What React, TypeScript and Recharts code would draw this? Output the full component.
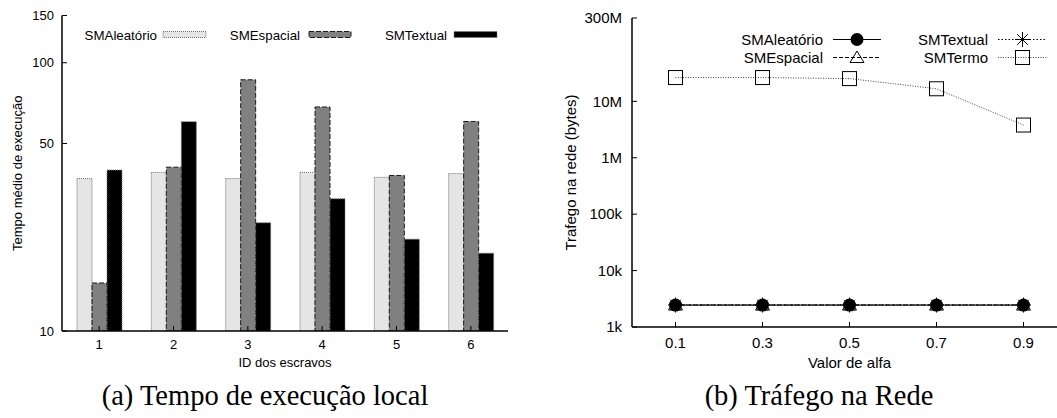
import React from "react";
import { BarChart, Bar, LineChart, Line, XAxis, YAxis, Legend } from "recharts";

const SANS = "'Liberation Sans', Arial, sans-serif";
const SERIF = "'Liberation Serif', 'Times New Roman', serif";

// (a) tempo médio de execução por escravo
const escravos = ["1", "2", "3", "4", "5", "6"];
const tempoAleatorio = [37.0, 39.0, 37.0, 39.0, 37.4, 38.6];
const tempoEspacial = [15.1, 40.8, 86.4, 68.4, 38.0, 60.4];
const tempoTextual = [39.8, 60.3, 25.3, 31.1, 22.0, 19.5];
const tempoTicks = [10, 50, 100, 150];

// (b) tráfego na rede por valor de alfa
const alfas = [0.1, 0.3, 0.5, 0.7, 0.9];
const trafegoAleatorio = [2450, 2450, 2450, 2450, 2450];
const trafegoEspacial = [2450, 2450, 2450, 2450, 2450];
const trafegoTextual = [2450, 2450, 2450, 2450, 2450];
const trafegoTermo = [26400000, 26400000, 25300000, 16700000, 3800000];
const trafegoTicks = [1e3, 1e4, 1e5, 1e6, 1e7, 3e8];
const trafegoTickLabels = ["1k", "10k", "100k", "1M", "10M", "300M"];

const tempoData = escravos.map((id, i) => ({
  id,
  aleatorio: tempoAleatorio[i],
  espacial: tempoEspacial[i],
  textual: tempoTextual[i],
}));

const trafegoData = alfas.map((alfa, i) => ({
  alfa,
  aleatorio: trafegoAleatorio[i],
  espacial: trafegoEspacial[i],
  textual: trafegoTextual[i],
  termo: trafegoTermo[i],
}));

const barSeries = [
  { key: "aleatorio", name: "SMAleatório", fill: "#e5e5e5", stroke: "#707070", dash: "1 1" },
  { key: "espacial", name: "SMEspacial", fill: "#808080", stroke: "#1a1a1a", dash: "5 2" },
  { key: "textual", name: "SMTextual", fill: "#000000", stroke: "#777777", dash: "1 1" },
];

// point shapes (gnuplot-like)
const circleMark = (cx: number, cy: number) => <circle cx={cx} cy={cy} r={6.5} fill="#000" />;
const triangleMark = (cx: number, cy: number) => (
  <path d={`M${cx},${cy - 6.5}L${cx + 7},${cy + 5}L${cx - 7},${cy + 5}Z`} fill="none" stroke="#000" strokeWidth={1} />
);
const asteriskMark = (cx: number, cy: number) => {
  const r = 7.5;
  const d = r * 0.707;
  return (
    <path
      d={`M${cx - r},${cy}H${cx + r}M${cx},${cy - r}V${cy + r}M${cx - d},${cy - d}L${cx + d},${cy + d}M${cx - d},${cy + d}L${cx + d},${cy - d}`}
      stroke="#000"
      strokeWidth={1}
    />
  );
};
const squareMark = (cx: number, cy: number) => (
  <rect x={cx - 7} y={cy - 7} width={14} height={14} fill="none" stroke="#000" strokeWidth={1} />
);

// drawn back to front so the filled circles sit on top
const lineSeries = [
  { key: "espacial", name: "SMEspacial", stroke: "#000", dash: "4 2", mark: triangleMark },
  { key: "textual", name: "SMTextual", stroke: "#000", dash: "1.5 2", mark: asteriskMark },
  { key: "termo", name: "SMTermo", stroke: "#444", dash: "1 1.5", mark: squareMark },
  { key: "aleatorio", name: "SMAleatório", stroke: "#000", dash: undefined, mark: circleMark },
];

// key layout for chart (a): text right aligned, then the box sample
const barKeyText = [157, 300, 447];
const barKeyBox = [163, 309, 454];
const barKeyBoxW = [43, 42, 43];

const BarKey = () => (
  <svg width={470} height={30} style={{ display: "block" }}>
    {barSeries.map((s, i) => (
      <g key={s.key}>
        <text x={barKeyText[i] - 60} y={15.8} textAnchor="end" fontFamily={SANS} fontSize={13.3} fill="#000">
          {s.name}
        </text>
        <rect
          x={barKeyBox[i] - 60}
          y={7.5}
          width={barKeyBoxW[i]}
          height={6}
          fill={s.fill}
          stroke={s.stroke}
          strokeDasharray={s.dash}
        />
      </g>
    ))}
  </svg>
);

// key layout for chart (b): two columns, two rows
const lineKeyOrder = ["aleatorio", "textual", "espacial", "termo"];
const lineKeyPos = [
  { textX: 823, x1: 833, x2: 881, cx: 857, cy: 39.5 },
  { textX: 988, x1: 998, x2: 1047, cx: 1022.5, cy: 39.5 },
  { textX: 823, x1: 833, x2: 881, cx: 857, cy: 57.5 },
  { textX: 988, x1: 998, x2: 1047, cx: 1022.5, cy: 57.5 },
];

const LineKey = () => {
  const ox = 700;
  const oy = 28;
  return (
    <svg width={360} height={44} style={{ display: "block" }}>
      {lineKeyOrder.map((k, i) => {
        const s = lineSeries.find((l) => l.key === k)!;
        const p = lineKeyPos[i];
        return (
          <g key={k}>
            <text
              x={p.textX - ox}
              y={p.cy - oy + 5.3}
              textAnchor="end"
              fontFamily={SANS}
              fontSize={15}
              fill="#000"
            >
              {s.name}
            </text>
            <line
              x1={p.x1 - ox}
              x2={p.x2 - ox}
              y1={p.cy - oy}
              y2={p.cy - oy}
              stroke={s.stroke}
              strokeDasharray={s.dash}
            />
            {s.mark(p.cx - ox, p.cy - oy)}
          </g>
        );
      })}
    </svg>
  );
};

const axisLine = { stroke: "#000", strokeWidth: 1.5 };
const tickLine = { stroke: "#000", strokeWidth: 1 };

export default function App() {
  const tickA = { fontSize: 13, fill: "#000", fontFamily: SANS };
  const tickB = { fontSize: 15, fill: "#000", fontFamily: SANS };

  return (
    <div
      style={{
        position: "absolute",
        left: 0,
        top: 0,
        width: 1057,
        height: 418,
        overflow: "hidden",
        background: "#fff",
      }}
    >
      <div style={{ position: "absolute", left: 0, top: 0 }}>
        <BarChart
          width={530}
          height={418}
          data={tempoData}
          margin={{ top: 15.5, right: 22, bottom: 18, left: 0 }}
          barSize={15}
          barGap={0}
        >
          <XAxis
            dataKey="id"
            height={69}
            axisLine={axisLine}
            tickLine={tickLine}
            tickSize={-5}
            tickMargin={14}
            tick={tickA}
            label={{ value: "ID dos escravos", position: "center", dy: -3, fontSize: 13, fontFamily: SANS, fill: "#000" }}
          />
          <XAxis
            xAxisId="top"
            orientation="top"
            dataKey="id"
            height={0}
            axisLine={axisLine}
            tickLine={tickLine}
            tickSize={-5}
            tick={false}
          />
          <YAxis
            type="number"
            scale="log"
            domain={[10, 150]}
            allowDataOverflow
            ticks={tempoTicks}
            width={62}
            axisLine={axisLine}
            tickLine={tickLine}
            tickSize={-5}
            tickMargin={13}
            tick={tickA}
            label={{
              value: "Tempo médio de execução",
              angle: -90,
              position: "center",
              dx: -14,
              fontSize: 13,
              fontFamily: SANS,
              fill: "#000",
            }}
          />
          <YAxis
            yAxisId="right"
            orientation="right"
            type="number"
            scale="log"
            domain={[10, 150]}
            allowDataOverflow
            ticks={tempoTicks}
            width={0}
            axisLine={axisLine}
            tickLine={tickLine}
            tickSize={-5}
            tick={false}
          />
          <Legend
            layout="horizontal"
            verticalAlign="middle"
            align="center"
            wrapperStyle={{ left: 60, top: 24 }}
            content={() => <BarKey />}
          />
          {barSeries.map((s) => (
            <Bar
              key={s.key}
              dataKey={s.key}
              name={s.name}
              fill={s.fill}
              stroke={s.stroke}
              strokeWidth={1}
              strokeDasharray={s.dash}
              isAnimationActive={false}
            />
          ))}
        </BarChart>
      </div>

      <div style={{ position: "absolute", left: 530, top: 0 }}>
        <LineChart
          width={537}
          height={418}
          data={trafegoData}
          margin={{ top: 18, right: 0, bottom: 16, left: 0 }}
        >
          <XAxis
            dataKey="alfa"
            type="number"
            domain={[0, 1]}
            allowDataOverflow
            ticks={alfas}
            tickFormatter={(v: number) => v.toFixed(1)}
            height={75}
            axisLine={axisLine}
            tickLine={tickLine}
            tickSize={-5}
            tickMargin={15}
            tick={tickB}
            label={{ value: "Valor de alfa", position: "center", dy: -2, fontSize: 15, fontFamily: SANS, fill: "#000" }}
          />
          <XAxis
            xAxisId="top"
            orientation="top"
            dataKey="alfa"
            type="number"
            domain={[0, 1]}
            allowDataOverflow
            ticks={alfas}
            height={0}
            axisLine={axisLine}
            tickLine={tickLine}
            tickSize={-5}
            tick={false}
          />
          <YAxis
            type="number"
            scale="log"
            domain={[1e3, 3e8]}
            allowDataOverflow
            ticks={trafegoTicks}
            tickFormatter={(v: number) => trafegoTickLabels[trafegoTicks.indexOf(v)]}
            width={102}
            axisLine={axisLine}
            tickLine={tickLine}
            tickSize={-5}
            tickMargin={15}
            tick={tickB}
            label={{
              value: "Trafego na rede (bytes)",
              angle: -90,
              position: "center",
              dx: -10,
              fontSize: 15,
              fontFamily: SANS,
              fill: "#000",
            }}
          />
          <Legend
            layout="horizontal"
            verticalAlign="middle"
            align="center"
            wrapperStyle={{ left: 170, top: 28 }}
            content={() => <LineKey />}
          />
          {lineSeries.map((s) => (
            <Line
              key={s.key}
              type="linear"
              dataKey={s.key}
              name={s.name}
              stroke={s.stroke}
              strokeWidth={1}
              strokeDasharray={s.dash}
              dot={(p: any) => <g key={`${s.key}-${p.index}`}>{s.mark(p.cx, p.cy)}</g>}
              activeDot={false}
              isAnimationActive={false}
            />
          ))}
        </LineChart>
      </div>

      <svg
        width={1057}
        height={418}
        style={{ position: "absolute", left: 0, top: 0, pointerEvents: "none" }}
      >
        <text x={265} y={405} textAnchor="middle" fontFamily={SERIF} fontSize={28.5} fill="#000">
          (a) Tempo de execução local
        </text>
        <text x={819} y={405} textAnchor="middle" fontFamily={SERIF} fontSize={28.5} fill="#000">
          (b) Tráfego na Rede
        </text>
      </svg>
    </div>
  );
}
